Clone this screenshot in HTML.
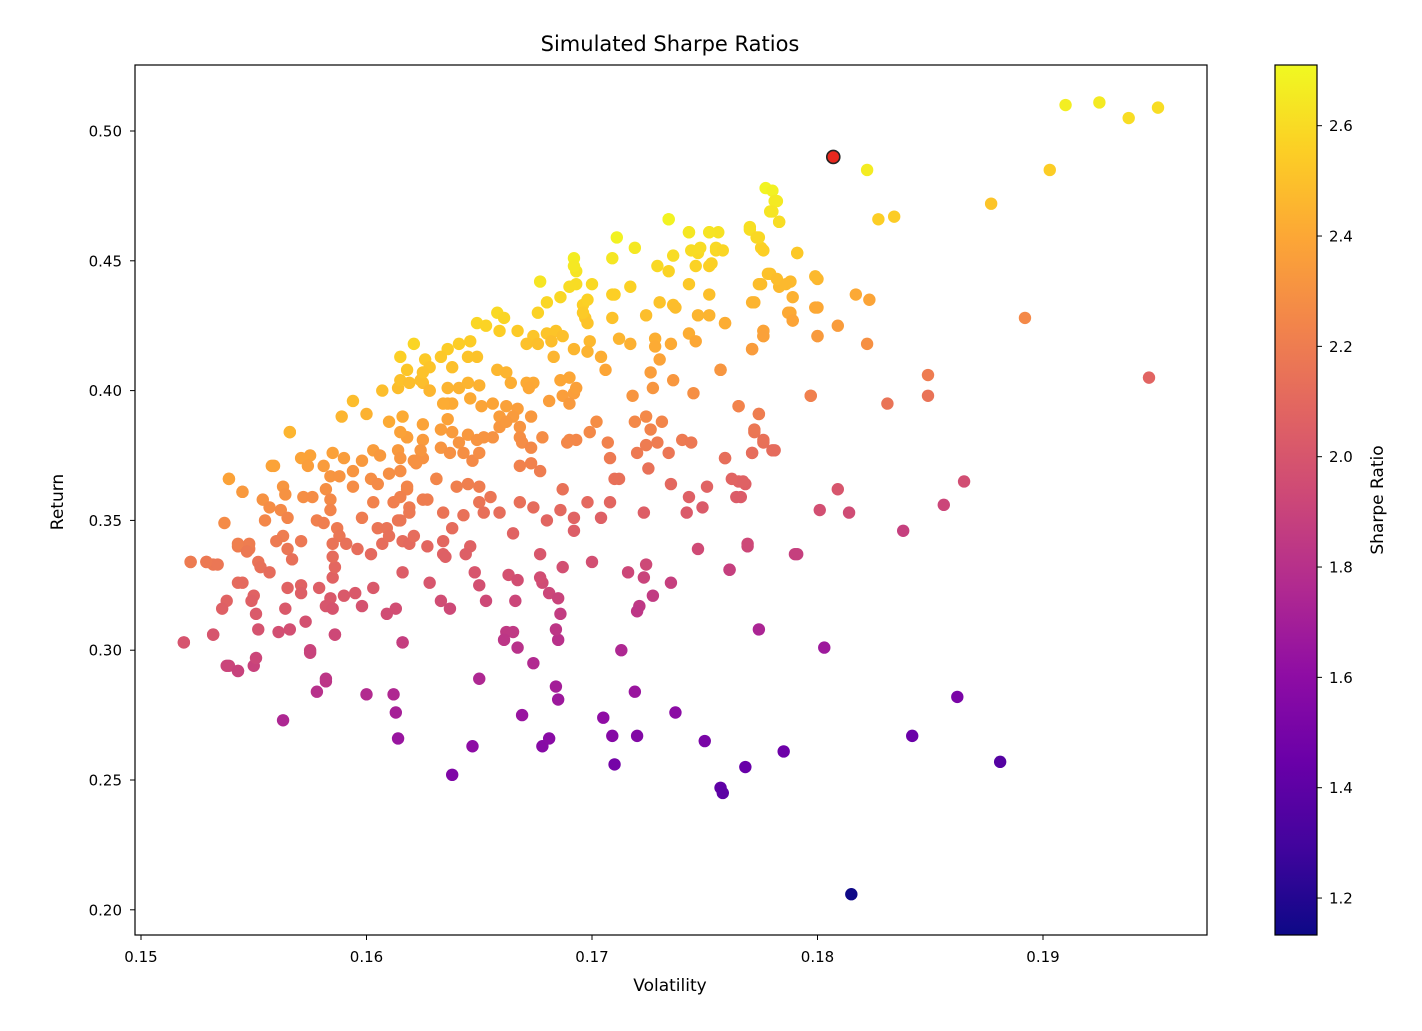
<!DOCTYPE html>
<html><head><meta charset="utf-8"><title>Simulated Sharpe Ratios</title>
<style>
html,body{margin:0;padding:0;background:#fff;}
svg text{font-family:"DejaVu Sans","Liberation Sans",sans-serif;fill:#000;}
</style></head>
<body>
<svg id="chart" width="1422" height="1026" viewBox="0 0 1422 1026" xmlns="http://www.w3.org/2000/svg">
<rect x="0" y="0" width="1422" height="1026" fill="#fff"/>
<text x="670" y="51" font-size="21" text-anchor="middle">Simulated Sharpe Ratios</text>
<g id="points"></g>
<g id="xaxis"></g>
<g id="yaxis"></g>
<rect x="135" y="65" width="1072" height="870" fill="none" stroke="#000" stroke-width="1.2"/>
<text x="670" y="991" font-size="17" text-anchor="middle">Volatility</text>
<text x="0" y="0" font-size="17" text-anchor="middle" transform="translate(63,502) rotate(-90)">Return</text>
<defs>
<linearGradient id="plasma" x1="0" y1="1" x2="0" y2="0">
<stop offset="0" stop-color="#0d0887"/><stop offset="0.1" stop-color="#41049d"/><stop offset="0.2" stop-color="#6a00a8"/><stop offset="0.3" stop-color="#8f0da4"/><stop offset="0.4" stop-color="#b12a90"/><stop offset="0.5" stop-color="#cc4778"/><stop offset="0.6" stop-color="#e16462"/><stop offset="0.7" stop-color="#f2844b"/><stop offset="0.8" stop-color="#fca636"/><stop offset="0.9" stop-color="#fcce25"/><stop offset="1" stop-color="#f0f921"/>
</linearGradient>
</defs>
<rect x="1275" y="65" width="42" height="870" fill="url(#plasma)" stroke="#000" stroke-width="1.2"/>
<g id="cbar"></g>
<text x="0" y="0" font-size="17" text-anchor="middle" transform="translate(1383,500) rotate(-90)">Sharpe Ratio</text>
</svg>
<script>
const volatility = [.1519,.1522,.1529,.1532,.1532,.1537,.1539,.1538,.1543,.1545,.1543,.1548,.155,.155,.1563,.1558,.1566,.1575,.1578,.1582,.1575,.1586,.16,.1612,.1613,.1614,.1616,.1638,.1647,.165,.1669,.1674,.1678,.1681,.1684,.1685,.1685,.1705,.1709,.171,.1713,.1719,.172,.1737,.175,.1757,.1758,.1768,.1785,.1774,.1803,.1815,.1842,.1862,.1881,.1947,.1892,.1849,.1849,.1831,.1856,.1865,.1838,.1809,.1801,.1814,.179,.1797,.1822,.1827,.1834,.1877,.1903,.191,.1925,.1938,.1951,.1817,.1823,.1822,.1809,.18,.18,.18,.1791,.1788,.1788,.1789,.1783,.1779,.1777,.178,.1781,.1779,.1783,.177,.1773,.1775,.1774,.1772,.1776,.1776,.1771,.1774,.1772,.1776,.178,.1771,.1765,.1759,.1765,.1768,.1764,.1769,.1761,.1757,.1759,.1755,.1756,.1752,.1752,.1747,.1743,.1734,
.1566,.1594,.1589,.16,.1607,.1614,.1625,.1628,.1636,.161,.1616,.1625,.1633,.1625,.1618,.1614,.1603,.1606,.1598,.1594,.159,.1585,.1581,.1584,.1588,.1571,.1574,.1559,.1539,.1545,.1563,.1564,.1572,.1576,.1582,.1584,.1584,.1594,.1602,.1605,.161,.1615,.1622,.1625,.1631,.1618,.1603,.1612,.1619,.1627,.1634,.1598,.1605,.1609,.1614,.1619,.1554,.1557,.1555,.1562,.1565,.1578,.1581,.1587,.1588,.1585,.1591,.1596,.1602,.1607,.161,.1616,.1619,.1627,.1634,.1563,.1571,.1565,.1567,.156,.1543,.1548,.1547,.1552,.1553,.1557,.1522,.1529,.1534,.1543,.1545,.1565,.1571,.1571,.1579,.1584,.1582,.1585,.1585,.1586,.1585,.159,.1595,.1598,.1603,.1616,.1628,.1633,.1637,.1609,.1613,.1538,.1536,.1549,.1551,.1552,.1561,.1566,.1564,.1573,.1586,.1532,.1519,.1551,.1539,.1543,.1575,.1616,.1582,
.1677,.1693,.169,.17,.1686,.168,.1676,.1696,.1697,.1698,.1709,.1709,.1658,.1661,.1649,.1653,.1659,.1667,.1674,.168,.1684,.1687,.1671,.1676,.1682,.1699,.1692,.1698,.1704,.1706,.1683,.1621,.1615,.1636,.1641,.1646,.1649,.1645,.1633,.1626,.1628,.1618,.1615,.1619,.1624,.1628,.1625,.1638,.1636,.1641,.1645,.165,.1646,.1638,.1634,.1658,.1662,.1664,.1671,.1674,.1672,.1686,.169,.1692,.1687,.1681,.169,.1693,.1651,.1656,.1662,.1667,.1659,.1665,.1673,.1659,.1662,.1668,.1656,.1652,.1668,.1669,.1673,.1678,.1636,.1638,.1645,.1649,.1641,.1633,.1637,.1643,.1647,.165,.1624,.1621,.1615,.1618,.1615,.1668,.1673,.1677,.1689,.1693,.1699,.1702,.1707,.1708,.171,.1687,.1698,.1708,.1692,.1704,.1692,.1668,.1674,.165,.1655,.165,.1652,.1659,.1665,.164,.1645,.1631,.1622,.1625,.1615,.1618,.1643,.1638,.1615,.1621,.1634,.1646,
.1782,.178,.1783,.177,.1774,.1776,.1791,.1734,.1743,.1752,.1711,.1719,.1709,.1692,.1692,.1736,.1729,.1734,.1744,.1748,.1755,.1758,.1746,.1753,.1743,.1752,.173,.1736,.1737,.171,.1717,.1693,.1698,.1696,.1724,.1747,.1752,.1759,.1771,.1775,.1778,.1782,.1786,.1789,.1799,.1799,.1787,.1789,.1776,.1776,.1771,.18,.1743,.1746,.1735,.1728,.1728,.173,.1712,.1717,.1726,.1727,.1736,.1757,.1745,.1718,.1797,.1765,.1774,.1772,.1776,.1781,.1771,.1759,.1724,.1719,.1726,.1731,.169,.172,.1724,.1729,.1734,.174,.1744,.1725,.1712,.1735,.1751,.1743,.1742,.1749,.1762,.1767,.1766,.1723,.1747,.1769,.1791,.1687,.17,.1716,.1724,.1735,.1761,
.1648,.165,.1653,.1644,.1635,.1663,.1667,.1662,.1665,.1667,.1661,.1666,.1677,.1678,.1681,.1677,.1685,.1686,.1684,.168,.1686,.1721,.172,.1723,.1727];
const returns = [.303,.334,.334,.333,.306,.349,.366,.294,.292,.361,.340,.339,.321,.294,.273,.371,.384,.375,.284,.288,.300,.306,.283,.283,.276,.266,.303,.252,.263,.289,.275,.295,.263,.266,.286,.281,.304,.274,.267,.256,.300,.284,.267,.276,.265,.247,.245,.255,.261,.308,.301,.206,.267,.282,.257,.405,.428,.406,.398,.395,.356,.365,.346,.362,.354,.353,.337,.398,.485,.466,.467,.472,.485,.510,.511,.505,.509,.437,.435,.418,.425,.443,.432,.421,.453,.442,.430,.427,.440,.445,.478,.477,.473,.469,.465,.462,.459,.455,.441,.434,.423,.421,.416,.391,.384,.380,.377,.376,.394,.374,.365,.364,.359,.340,.331,.408,.426,.454,.461,.461,.448,.453,.461,.466,
.384,.396,.390,.391,.400,.401,.403,.400,.395,.388,.390,.387,.385,.381,.382,.377,.377,.375,.373,.369,.374,.376,.371,.367,.367,.374,.371,.371,.366,.361,.363,.360,.359,.359,.362,.358,.354,.363,.366,.364,.368,.369,.372,.374,.366,.362,.357,.357,.355,.358,.353,.351,.347,.347,.350,.353,.358,.355,.350,.354,.351,.350,.349,.347,.344,.341,.341,.339,.337,.341,.344,.342,.341,.340,.337,.344,.342,.339,.335,.342,.341,.341,.338,.334,.332,.330,.334,.334,.333,.326,.326,.324,.325,.322,.324,.320,.317,.316,.328,.332,.336,.321,.322,.317,.324,.330,.326,.319,.316,.314,.316,.319,.316,.319,.314,.308,.307,.308,.316,.311,.306,.306,.303,.297,.294,.292,.299,.303,.289,
.442,.446,.440,.441,.436,.434,.430,.433,.428,.426,.437,.428,.430,.428,.426,.425,.423,.423,.421,.422,.423,.421,.418,.418,.419,.419,.416,.415,.413,.408,.413,.418,.413,.416,.418,.419,.413,.413,.413,.412,.409,.408,.404,.403,.404,.400,.407,.409,.401,.401,.403,.402,.397,.395,.395,.408,.407,.403,.403,.403,.401,.404,.405,.399,.398,.396,.395,.401,.394,.395,.394,.393,.390,.390,.390,.386,.388,.386,.382,.382,.382,.380,.378,.382,.389,.384,.383,.381,.380,.378,.376,.376,.373,.376,.377,.373,.374,.382,.384,.371,.372,.369,.380,.381,.384,.388,.380,.374,.366,.362,.357,.357,.351,.351,.346,.357,.355,.363,.359,.357,.353,.353,.345,.363,.364,.366,.373,.358,.359,.363,.352,.347,.350,.344,.342,.340,
.473,.469,.465,.463,.459,.454,.453,.466,.461,.461,.459,.455,.451,.451,.448,.452,.448,.446,.454,.455,.455,.454,.448,.449,.441,.437,.434,.433,.432,.437,.440,.441,.435,.430,.429,.429,.429,.426,.434,.441,.445,.443,.441,.436,.444,.432,.430,.427,.423,.421,.416,.421,.422,.419,.418,.420,.417,.412,.420,.418,.407,.401,.404,.408,.399,.398,.398,.394,.391,.385,.381,.377,.376,.374,.390,.388,.385,.388,.381,.376,.379,.380,.376,.381,.380,.370,.366,.364,.363,.359,.353,.355,.366,.365,.359,.353,.339,.341,.337,.332,.334,.330,.333,.326,.331,
.330,.325,.319,.337,.336,.329,.327,.307,.307,.301,.304,.319,.337,.326,.322,.328,.320,.314,.308,.350,.354,.317,.315,.328,.321];
const optimalPoint = [0.1807, 0.490];
const colorLimits = [1.133, 2.71];
const xTicks = [0.15, 0.16, 0.17, 0.18, 0.19];
const xTickLabels = ["0.15", "0.16", "0.17", "0.18", "0.19"];
const yTicks = [0.20, 0.25, 0.30, 0.35, 0.40, 0.45, 0.50];
const yTickLabels = ["0.20", "0.25", "0.30", "0.35", "0.40", "0.45", "0.50"];
const cbarTicks = [1.2, 1.4, 1.6, 1.8, 2.0, 2.2, 2.4, 2.6];
const cbarTickLabels = ["1.2", "1.4", "1.6", "1.8", "2.0", "2.2", "2.4", "2.6"];

const NS = "http://www.w3.org/2000/svg";
const xScale = v => 141 + (v - 0.15) * 22550;
const yScale = v => 131 + (0.50 - v) * 2596;
const sharpe = volatility.map((v, i) => returns[i] / v);
const vmin = colorLimits[0], vmax = colorLimits[1];
const cScale = v => 935 - (v - vmin) / (vmax - vmin) * 870;
const stops = ["#0d0887","#41049d","#6a00a8","#8f0da4","#b12a90","#cc4778","#e16462","#f2844b","#fca636","#fcce25","#f0f921"];
function hex(h){return [1,3,5].map(k=>parseInt(h.substr(k,2),16));}
function plasma(t){
  t = Math.max(0, Math.min(1, t)) * 10;
  const i = Math.min(9, Math.floor(t)), f = t - i;
  const a = hex(stops[i]), b = hex(stops[i+1]);
  return "rgb(" + a.map((c,k)=>Math.round(c + (b[k]-c)*f)).join(",") + ")";
}
function mk(tag, attrs, parent){
  const e = document.createElementNS(NS, tag);
  for (const k in attrs) e.setAttribute(k, attrs[k]);
  parent.appendChild(e);
  return e;
}
const pg = document.getElementById("points");
volatility.forEach((v, i) => {
  const c = mk("circle", {cx: xScale(v), cy: yScale(returns[i]), r: 6.2, fill: plasma((sharpe[i]-vmin)/(vmax-vmin))}, pg);
  
  
});
const op = mk("circle", {cx: xScale(optimalPoint[0]), cy: yScale(optimalPoint[1]), r: 6.5, fill: "#e8281e", stroke: "#222", "stroke-width": 1.6}, pg);



const xg = document.getElementById("xaxis");
xTicks.forEach((t, i) => {
  const x = xScale(t);
  const l = mk("line", {x1: x, x2: x, y1: 935, y2: 940, stroke: "#000", "stroke-width": 1}, xg);
  
  
  const tx = mk("text", {x: x, y: 962, "font-size": 15, "text-anchor": "middle"}, xg);
  tx.textContent = xTickLabels[i];
  
  
});
const yg = document.getElementById("yaxis");
yTicks.forEach((t, i) => {
  const y = yScale(t);
  const l = mk("line", {x1: 130, x2: 135, y1: y, y2: y, stroke: "#000", "stroke-width": 1}, yg);
  
  
  const tx = mk("text", {x: 122, y: y + 5.5, "font-size": 15, "text-anchor": "end"}, yg);
  tx.textContent = yTickLabels[i];
  
  
});
const cg = document.getElementById("cbar");
cbarTicks.forEach((t, i) => {
  const y = cScale(t);
  const l = mk("line", {x1: 1317, x2: 1322, y1: y, y2: y, stroke: "#000", "stroke-width": 1}, cg);
  
  
  const tx = mk("text", {x: 1329, y: y + 5.5, "font-size": 15, "text-anchor": "start"}, cg);
  tx.textContent = cbarTickLabels[i];
  
  
});
</script>
</body></html>
